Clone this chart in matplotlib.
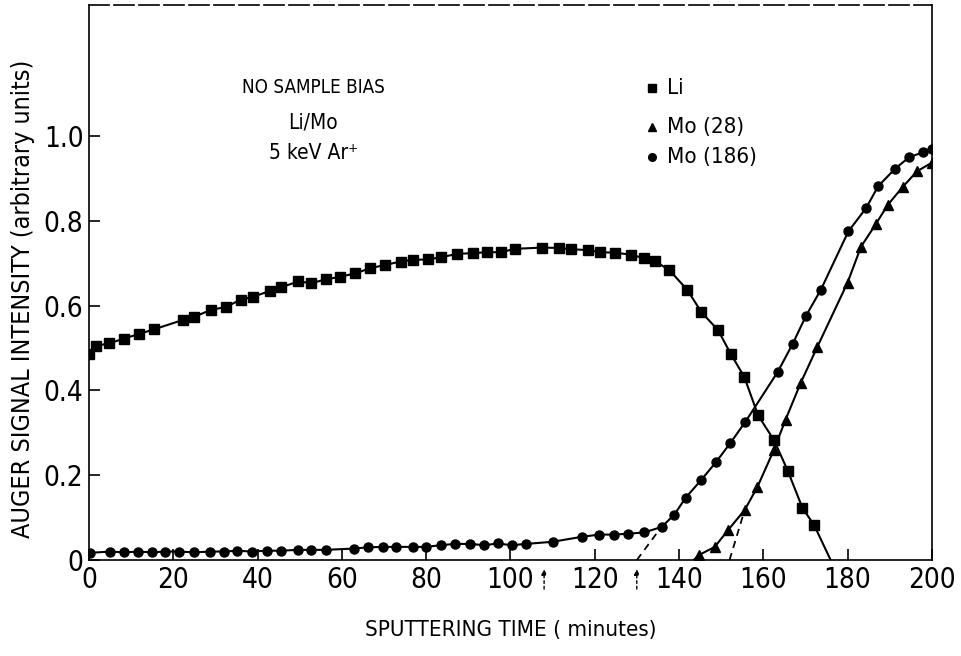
import matplotlib
matplotlib.use('Agg')
import matplotlib.pyplot as plt
from matplotlib import font_manager

# pick a narrow sans if there is one
names = set(f.name for f in font_manager.fontManager.ttflist)
if 'Liberation Sans Narrow' in names:
    plt.rcParams['font.family'] = ['Liberation Sans Narrow', 'DejaVu Sans']
    stretch = 'normal'
else:
    plt.rcParams['font.family'] = ['DejaVu Sans']
    stretch = 'condensed'

# Li (squares)
li_t = [0, 1.6, 4.8, 8.2, 11.8, 15.4, 22.2, 25, 29, 32.5, 36, 39, 43, 45.5, 49.7, 52.8, 56.2,
        59.6, 63.1, 66.7, 70.2, 74, 76.8, 80.5, 83.5, 87.3, 91.2, 94.4, 97.7, 101.1, 107.6,
        111.6, 114.5, 118.5, 121.3, 124.9, 128.6, 131.7, 134.3, 137.7, 142.0, 145.3, 149.3,
        152.3, 155.5, 158.8, 162.6, 165.8, 169.3, 172.1]
li_v = [0.486, 0.505, 0.511, 0.522, 0.533, 0.544, 0.566, 0.574, 0.590, 0.597, 0.614, 0.621,
        0.635, 0.643, 0.657, 0.653, 0.662, 0.668, 0.676, 0.688, 0.696, 0.704, 0.708, 0.709,
        0.714, 0.722, 0.724, 0.726, 0.726, 0.734, 0.737, 0.736, 0.733, 0.731, 0.726, 0.725,
        0.720, 0.712, 0.705, 0.684, 0.637, 0.585, 0.542, 0.486, 0.432, 0.341, 0.282, 0.211,
        0.123, 0.082]
li_zero_t = 176.0  # where the drawn Li curve meets the axis

# Mo (28) (triangles)
mo28_t = [144.8, 148.5, 151.6, 155.6, 158.6, 162.5, 165.3, 168.9, 172.8, 180.0, 183.2,
          186.7, 189.5, 193.1, 196.5, 200.0]
mo28_v = [0.012, 0.031, 0.070, 0.118, 0.172, 0.259, 0.331, 0.418, 0.502, 0.654, 0.739,
          0.792, 0.837, 0.880, 0.917, 0.937]
mo28_start_t = 143.5

# Mo (186) (circles)
mo186_t = [0.3, 5, 8.4, 11.6, 14.9, 18, 21.4, 25, 28.8, 32.1, 35.1, 38.6, 42.2, 45.5, 49.7,
           52.8, 56.2, 62.8, 66.3, 69.7, 72.8, 76.8, 80, 83.5, 86.8, 90.5, 93.8, 97, 100.3,
           103.7, 110, 117.1, 121.1, 124.5, 127.8, 131.7, 135.9, 138.9, 141.6, 145.3, 148.8,
           152.2, 155.7, 163.4, 167, 170.1, 173.7, 180.2, 184.4, 187.3, 191.2, 194.6, 198,
           200]
mo186_v = [0.017, 0.020, 0.018, 0.020, 0.018, 0.020, 0.020, 0.018, 0.020, 0.020, 0.022,
           0.020, 0.022, 0.022, 0.024, 0.024, 0.024, 0.027, 0.030, 0.031, 0.031, 0.031,
           0.031, 0.035, 0.038, 0.038, 0.035, 0.039, 0.035, 0.038, 0.043, 0.055, 0.060,
           0.060, 0.062, 0.065, 0.078, 0.107, 0.147, 0.189, 0.231, 0.276, 0.325, 0.443,
           0.510, 0.575, 0.638, 0.775, 0.830, 0.882, 0.922, 0.950, 0.962, 0.970]

# dashed extrapolations to zero
mo186_dash_t = [130, 136]
mo186_dash_v = [0.0, 0.08]
mo28_dash_t = [152, 155.6]
mo28_dash_v = [0.0, 0.118]

arrow_t = [108, 130]

x_ticks = [0, 20, 40, 60, 80, 100, 120, 140, 160, 180, 200]
x_labels = ['0', '20', '40', '60', '80', '100', '120', '140', '160', '180', '200']
y_ticks = [0, 0.2, 0.4, 0.6, 0.8, 1.0]
y_labels = ['0', '0.2', '0.4', '0.6', '0.8', '1.0']

fig = plt.figure(figsize=(9.61, 6.56), dpi=100)
ax = fig.add_axes([0.0926, 0.1463, 0.877, 0.846])

ax.plot(li_t + [li_zero_t], li_v + [0.0], color='black', lw=1.5)
ax.plot(li_t, li_v, 's', color='black', ms=7)
ax.plot([mo28_start_t] + mo28_t, [0.0] + mo28_v, color='black', lw=1.5)
ax.plot(mo28_t, mo28_v, '^', color='black', ms=7)
ax.plot(mo186_t, mo186_v, color='black', lw=1.5)
ax.plot(mo186_t, mo186_v, 'o', color='black', ms=6.5)
ax.plot(mo186_dash_t, mo186_dash_v, '--', color='black', lw=1.3, dashes=(4, 3))
ax.plot(mo28_dash_t, mo28_dash_v, '--', color='black', lw=1.3, dashes=(4, 3))

ax.set_xlim(0, 200)
ax.set_ylim(0, 1.309)
ax.set_xticks(x_ticks)
ax.set_xticklabels(x_labels)
ax.set_yticks(y_ticks)
ax.set_yticklabels(y_labels)
ax.tick_params(direction='in', length=8, width=1.2, labelsize=20, pad=4)
for lab in ax.get_xticklabels() + ax.get_yticklabels():
    lab.set_fontstretch(stretch)
for s in ax.spines.values():
    s.set_linewidth(1.2)
ax.spines['top'].set_linestyle((0, (12, 3)))

ax.set_xlabel('SPUTTERING TIME ( minutes)', fontsize=16, fontstretch=stretch)
ax.xaxis.set_label_coords(0.5, -0.108)
ax.set_ylabel('AUGER SIGNAL INTENSITY (arbitrary units)', fontsize=18,
              fontstretch=stretch)
ax.yaxis.set_label_coords(-0.064, 0.47)

# arrows under the axis
for t in arrow_t:
    ax.annotate('', xy=(t, -0.015), xytext=(t, -0.075), xycoords='data',
                arrowprops=dict(arrowstyle='-|>', color='black', lw=1.0,
                                linestyle=(0, (2, 2)), mutation_scale=8),
                annotation_clip=False)

# condition notes
notes = [('NO SAMPLE BIAS', 0.866, 13.5), ('Li/Mo', 0.8125, 15), ('5 keV Ar\u207a', 0.767, 15)]
for txt, y, fs in notes:
    fig.text(0.326, y, txt, ha='center', va='center', fontsize=fs, fontstretch=stretch)

# hand-made key
key = [('s', 'Li', 0.866, 6), ('^', 'Mo (28)', 0.806, 6), ('o', 'Mo (186)', 0.761, 5.5)]
for m, txt, y, ms in key:
    fig.lines.append(plt.Line2D([0.678], [y], marker=m, color='black', ms=ms,
                                transform=fig.transFigure, figure=fig))
    fig.text(0.694, y, txt, ha='left', va='center', fontsize=16, fontstretch=stretch)

fig.savefig('out.png', dpi=100)
